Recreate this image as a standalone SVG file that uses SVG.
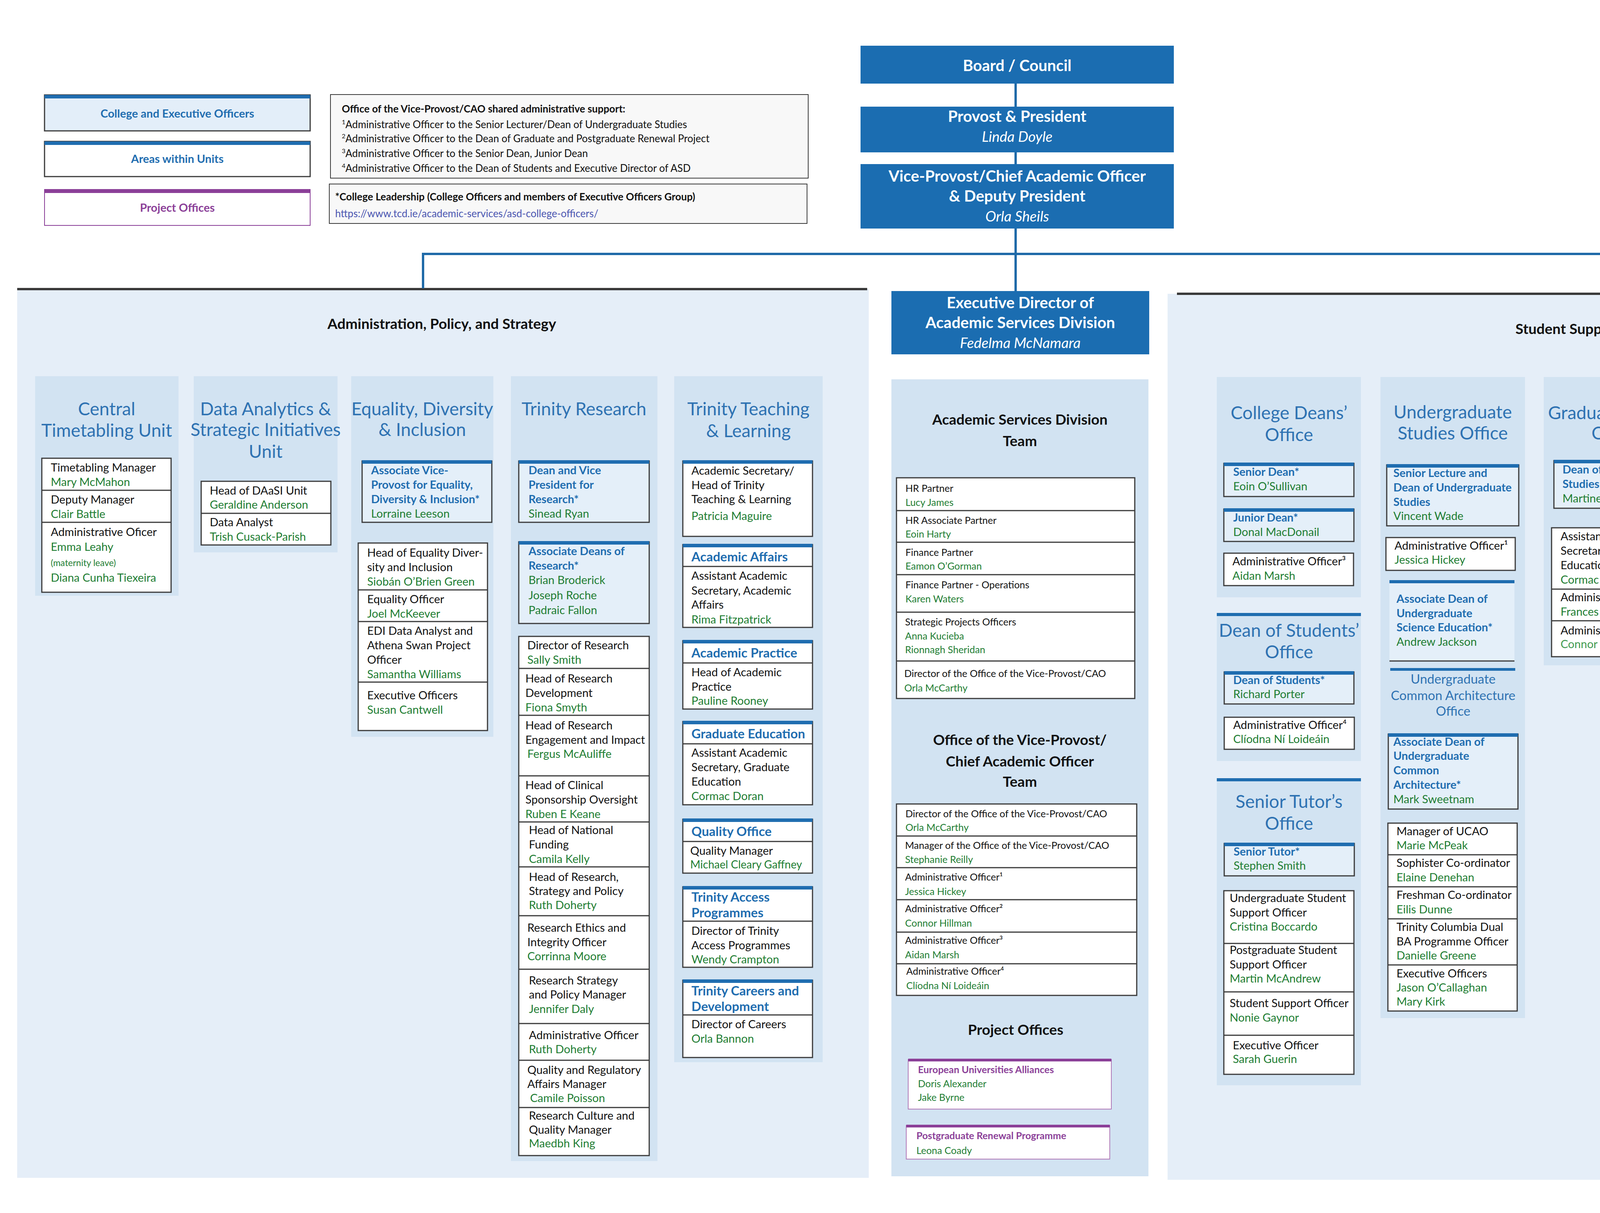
<svg xmlns="http://www.w3.org/2000/svg" width="5280" height="3105" viewBox="0 0 5280 3105">
<style>
text{font-family:Lato,"Open Sans","Liberation Sans",sans-serif}
.t{font-size:29px;fill:#111}
.g{font-size:29px;fill:#1e7d32}
.s{font-size:20px;fill:#1e7d32}
.h{font-size:29px;fill:#1f6db0;font-weight:bold}
.hh{font-size:33px;fill:#1f6db0;font-weight:bold}
.ct{font-size:46px;fill:#2e72b2;text-anchor:middle}
.c{font-size:25px;fill:#111}
.cg{font-size:25px;fill:#1e7d32}
.pt{font-size:25px;fill:#8b3f98;font-weight:bold}
.sec{font-size:39px;font-weight:bold;fill:#111;text-anchor:middle}
.wb{font-size:40px;font-weight:bold;fill:#fff;text-anchor:middle}
.wi{font-size:37px;font-style:italic;fill:#fff;text-anchor:middle}
.n{font-size:26px;fill:#111}
.panel{fill:#e5eef8}
.col{fill:#d2e3f2}
.box{fill:#fff;stroke:#3a3a3a;stroke-width:3}
.lbox{fill:#e4eff9;stroke:#3a3a3a;stroke-width:3}
.bar{fill:#1f6db0}
.dv{stroke:#3a3a3a;stroke-width:3}
.top{fill:#1b6db1}
.cn{stroke:#1f6aa8;stroke-width:6;fill:none}
</style>

<!-- Legend -->
<g id="legend">
<rect x="114" y="243" width="680" height="92" fill="#e3eef9" stroke="#3a3a3a" stroke-width="3"/>
<rect x="114" y="243" width="680" height="9" class="bar"/>
<text x="454" y="301" text-anchor="middle" style="font-size:29px;fill:#1f6db0;font-weight:bold">College and Executive Officers</text>
<rect x="114" y="362" width="680" height="90" class="box"/>
<rect x="114" y="362" width="680" height="9" class="bar"/>
<text x="454" y="417" text-anchor="middle" style="font-size:29px;fill:#1f6db0;font-weight:bold">Areas within Units</text>
<rect x="114" y="485" width="680" height="92" fill="#fff" stroke="#8b3f98" stroke-width="2"/>
<rect x="114" y="485" width="680" height="9" fill="#8b3f98"/>
<text x="454" y="542" text-anchor="middle" style="font-size:29px;fill:#8b3f98;font-weight:bold">Project Offices</text>
</g>
<g id="note1">
<rect x="846" y="242" width="1223" height="214" fill="#f8f8f8" stroke="#3a3a3a" stroke-width="2"/>
<text x="875" y="288" class="n" font-weight="bold">Office of the Vice-Provost/CAO shared administrative support:</text>
<text x="875" y="328" class="n"><tspan font-size="16" dy="-10">1</tspan><tspan dy="10">Administrative Officer to the Senior Lecturer/Dean of Undergraduate Studies</tspan></text>
<text x="875" y="364" class="n"><tspan font-size="16" dy="-10">2</tspan><tspan dy="10">Administrative Officer to the Dean of Graduate  and Postgraduate Renewal Project</tspan></text>
<text x="875" y="402" class="n"><tspan font-size="16" dy="-10">3</tspan><tspan dy="10">Administrative Officer to the Senior Dean, Junior Dean</tspan></text>
<text x="875" y="440" class="n"><tspan font-size="16" dy="-10">4</tspan><tspan dy="10">Administrative Officer to the Dean of Students and Executive Director of ASD</tspan></text>
</g>
<g id="note2">
<rect x="843" y="471" width="1223" height="101" fill="#f8f8f8" stroke="#3a3a3a" stroke-width="2"/>
<text x="858" y="513" class="n" font-weight="bold">*College Leadership (College Officers and members of Executive Officers Group)</text>
<text x="858" y="556" class="n" fill="#4a55b0" style="fill:#4a55b0">https://www.tcd.ie/academic-services/asd-college-officers/</text>
</g>

<!-- Panels -->
<g id="panel-left">
<rect x="44" y="740" width="2180" height="2275" class="panel"/>
<line x1="44" y1="740" x2="2220" y2="740" stroke="#3a3a3a" stroke-width="6"/>
<text x="1131" y="842" class="sec" style="font-size:37px">Administration, Policy, and Strategy</text>
</g>
<g id="panel-right">
<rect x="2989" y="752" width="2281" height="2268" class="panel"/>
<line x1="3013" y1="752" x2="5270" y2="752" stroke="#3a3a3a" stroke-width="6"/>
<text x="4130" y="855" class="sec" style="font-size:37px">Student Supports and Services</text>
</g>

<!-- Connectors -->
<g id="connectors">
<line x1="2600" y1="214" x2="2600" y2="273" class="cn"/>
<line x1="2600" y1="390" x2="2600" y2="420" class="cn"/>
<line x1="2600" y1="585" x2="2600" y2="745" class="cn"/>
<polyline points="1083,738 1083,650 4207,650 4207,749" class="cn"/>
</g>

<!-- Top -->
<g id="board"><rect x="2203" y="117" width="802" height="97" class="top"/><text x="2604" y="182" class="wb">Board / Council</text></g>
<g id="provost"><rect x="2203" y="273" width="802" height="117" class="top"/><text x="2604" y="312" class="wb">Provost &amp; President</text><text x="2604" y="363" class="wi">Linda Doyle</text></g>
<g id="vp"><rect x="2203" y="420" width="802" height="165" class="top"/><text x="2604" y="465" class="wb">Vice-Provost/Chief Academic Officer</text><text x="2604" y="516" class="wb">&amp; Deputy President</text><text x="2604" y="567" class="wi">Orla Sheils</text></g>
<g id="exec"><rect x="2282" y="745" width="660" height="162" class="top"/><text x="2612" y="789" class="wb">Executive Director of</text><text x="2612" y="840" class="wb">Academic Services Division</text><text x="2612" y="891" class="wi">Fedelma McNamara</text></g>

<!-- Central Timetabling -->
<g id="ctu">
<rect x="90" y="963" width="367" height="562" class="col"/>
<text x="273" y="1063" class="ct">Central</text><text x="273" y="1118" class="ct">Timetabling Unit</text>
<rect x="107" y="1173" width="331" height="343" class="box"/>
<line x1="107" y1="1255" x2="438" y2="1255" class="dv"/><line x1="107" y1="1337" x2="438" y2="1337" class="dv"/>
<text x="130" y="1207" class="t">Timetabling Manager</text><text x="130" y="1244" class="g">Mary McMahon</text>
<text x="130" y="1289" class="t">Deputy Manager</text><text x="130" y="1326" class="g">Clair Battle</text>
<text x="130" y="1372" class="t">Administrative Oficer</text><text x="130" y="1410" class="g">Emma Leahy</text>
<text x="130" y="1449" class="s" style="font-size:23px">(maternity leave)</text><text x="130" y="1489" class="g">Diana Cunha Tiexeira</text>
</g>

<!-- Data Analytics -->
<g id="daasi">
<rect x="496" y="963" width="368" height="451" class="col"/>
<text x="680" y="1063" class="ct">Data Analytics &amp;</text><text x="680" y="1116" class="ct">Strategic Initiatives</text><text x="680" y="1172" class="ct">Unit</text>
<rect x="515" y="1232" width="332" height="163" class="box"/><line x1="515" y1="1314" x2="847" y2="1314" class="dv"/>
<text x="537" y="1266" class="t">Head of DAaSI Unit</text><text x="537" y="1302" class="g">Geraldine Anderson</text>
<text x="537" y="1347" class="t">Data Analyst</text><text x="537" y="1384" class="g">Trish Cusack-Parish</text>
</g>

<!-- EDI -->
<g id="edi">
<rect x="899" y="963" width="364" height="923" class="col"/>
<text x="1081" y="1063" class="ct">Equality, Diversity</text><text x="1081" y="1116" class="ct">&amp; Inclusion</text>
<rect x="927" y="1180" width="332" height="157" class="lbox"/><rect x="927" y="1178" width="332" height="9" class="bar"/>
<text x="950" y="1214" class="h">Associate Vice-</text><text x="950" y="1251" class="h">Provost for Equality,</text><text x="950" y="1288" class="h">Diversity &amp;  Inclusion*</text><text x="950" y="1325" class="g">Lorraine Leeson</text>
<rect x="917" y="1390" width="331" height="480" class="box"/>
<line x1="917" y1="1510" x2="1248" y2="1510" class="dv"/><line x1="917" y1="1591" x2="1248" y2="1591" class="dv"/><line x1="917" y1="1746" x2="1248" y2="1746" class="dv"/>
<text x="940" y="1425" class="t">Head of Equality Diver-</text><text x="940" y="1462" class="t">sity and Inclusion</text><text x="940" y="1499" class="g">Siobán O’Brien Green</text>
<text x="940" y="1544" class="t">Equality Officer</text><text x="940" y="1581" class="g">Joel McKeever</text>
<text x="940" y="1625" class="t">EDI Data Analyst and</text><text x="940" y="1662" class="t">Athena Swan Project</text><text x="940" y="1699" class="t">Officer</text><text x="940" y="1736" class="g">Samantha Williams</text>
<text x="940" y="1790" class="t">Executive Officers</text><text x="940" y="1827" class="g">Susan Cantwell</text>
</g>

<!-- Trinity Research -->
<g id="research">
<rect x="1308" y="963" width="375" height="2009" class="col"/>
<text x="1495" y="1063" class="ct">Trinity Research</text>
<rect x="1328" y="1180" width="334" height="157" class="lbox"/><rect x="1328" y="1178" width="334" height="9" class="bar"/>
<text x="1353" y="1214" class="h">Dean and Vice</text><text x="1353" y="1251" class="h">President for</text><text x="1353" y="1288" class="h">Research*</text><text x="1353" y="1325" class="g">Sinead Ryan</text>
<rect x="1328" y="1387" width="334" height="209" class="lbox"/><rect x="1328" y="1385" width="334" height="9" class="bar"/>
<text x="1353" y="1421" class="h">Associate Deans of</text><text x="1353" y="1458" class="h">Research*</text><text x="1353" y="1495" class="g">Brian Broderick</text><text x="1353" y="1534" class="g">Joseph Roche</text><text x="1353" y="1572" class="g">Padraic Fallon</text>
<rect x="1328" y="1629" width="334" height="1329" class="box"/>
<g class="dv"><line x1="1328" y1="1711" x2="1662" y2="1711"/><line x1="1328" y1="1831" x2="1662" y2="1831"/><line x1="1328" y1="1986" x2="1662" y2="1986"/><line x1="1328" y1="2104" x2="1662" y2="2104"/><line x1="1328" y1="2219" x2="1662" y2="2219"/><line x1="1328" y1="2344" x2="1662" y2="2344"/><line x1="1328" y1="2481" x2="1662" y2="2481"/><line x1="1328" y1="2620" x2="1662" y2="2620"/><line x1="1328" y1="2714" x2="1662" y2="2714"/><line x1="1328" y1="2835" x2="1662" y2="2835"/></g>
<text x="1350" y="1662" class="t">Director of Research</text><text x="1350" y="1699" class="g">Sally Smith</text>
<text x="1345" y="1747" class="t">Head of Research</text><text x="1345" y="1784" class="t">Development</text><text x="1345" y="1821" class="g">Fiona Smyth</text>
<text x="1345" y="1867" class="t">Head of Research</text><text x="1345" y="1904" class="t">Engagement and Impact</text><text x="1350" y="1940" class="g">Fergus McAuliffe</text>
<text x="1345" y="2020" class="t">Head of Clinical</text><text x="1345" y="2057" class="t">Sponsorship Oversight</text><text x="1345" y="2094" class="g">Ruben E Keane</text>
<text x="1354" y="2135" class="t">Head of National</text><text x="1354" y="2172" class="t">Funding</text><text x="1354" y="2209" class="g">Camila Kelly</text>
<text x="1354" y="2255" class="t">Head of Research,</text><text x="1354" y="2291" class="t">Strategy and Policy</text><text x="1354" y="2327" class="g">Ruth Doherty</text>
<text x="1350" y="2385" class="t">Research Ethics and</text><text x="1350" y="2422" class="t">Integrity Officer</text><text x="1350" y="2458" class="g">Corrinna Moore</text>
<text x="1354" y="2520" class="t">Research Strategy</text><text x="1354" y="2556" class="t">and Policy Manager</text><text x="1354" y="2593" class="g">Jennifer Daly</text>
<text x="1354" y="2660" class="t">Administrative Officer</text><text x="1354" y="2696" class="g">Ruth Doherty</text>
<text x="1350" y="2749" class="t">Quality and Regulatory</text><text x="1350" y="2785" class="t">Affairs Manager</text><text x="1357" y="2821" class="g">Camile Poisson</text>
<text x="1354" y="2866" class="t">Research Culture and</text><text x="1354" y="2902" class="t">Quality Manager</text><text x="1354" y="2937" class="g">Maedbh King</text>
</g>

<!-- Trinity Teaching & Learning -->
<g id="teaching">
<rect x="1726" y="963" width="380" height="1756" class="col"/>
<text x="1916" y="1063" class="ct">Trinity Teaching</text><text x="1916" y="1119" class="ct">&amp; Learning</text>
<rect x="1748" y="1180" width="332" height="193" class="box"/><rect x="1748" y="1178" width="332" height="9" class="bar"/>
<text x="1770" y="1215" class="t">Academic Secretary/</text><text x="1770" y="1252" class="t">Head of Trinity</text><text x="1770" y="1288" class="t">Teaching &amp; Learning</text><text x="1770" y="1331" class="g">Patricia Maguire</text>
<rect x="1748" y="1394" width="332" height="212" class="box"/><rect x="1748" y="1392" width="332" height="9" class="bar"/><line x1="1748" y1="1450" x2="2080" y2="1450" class="dv"/>
<text x="1770" y="1437" class="hh">Academic Affairs</text><text x="1770" y="1484" class="t">Assistant Academic</text><text x="1770" y="1522" class="t">Secretary, Academic</text><text x="1770" y="1558" class="t">Affairs</text><text x="1770" y="1596" class="g">Rima Fitzpatrick</text>
<rect x="1748" y="1640" width="332" height="175" class="box"/><rect x="1748" y="1638" width="332" height="9" class="bar"/><line x1="1748" y1="1697" x2="2080" y2="1697" class="dv"/>
<text x="1770" y="1683" class="hh">Academic Practice</text><text x="1770" y="1731" class="t">Head of Academic</text><text x="1770" y="1768" class="t">Practice</text><text x="1770" y="1804" class="g">Pauline Rooney</text>
<rect x="1748" y="1847" width="332" height="213" class="box"/><rect x="1748" y="1845" width="332" height="9" class="bar"/><line x1="1748" y1="1904" x2="2080" y2="1904" class="dv"/>
<text x="1770" y="1890" class="hh">Graduate Education</text><text x="1770" y="1937" class="t">Assistant Academic</text><text x="1770" y="1974" class="t">Secretary, Graduate</text><text x="1770" y="2011" class="t">Education</text><text x="1770" y="2048" class="g">Cormac Doran</text>
<rect x="1748" y="2097" width="332" height="138" class="box"/><rect x="1748" y="2095" width="332" height="9" class="bar"/><line x1="1748" y1="2154" x2="2080" y2="2154" class="dv"/>
<text x="1770" y="2140" class="hh">Quality Office</text><text x="1767" y="2188" class="t">Quality Manager</text><text x="1767" y="2223" class="g" style="font-size:28px">Michael Cleary Gaffney</text>
<rect x="1748" y="2270" width="332" height="206" class="box"/><rect x="1748" y="2268" width="332" height="9" class="bar"/><line x1="1748" y1="2358" x2="2080" y2="2358" class="dv"/>
<text x="1770" y="2308" class="hh">Trinity Access</text><text x="1770" y="2348" class="hh">Programmes</text><text x="1770" y="2393" class="t">Director of Trinity</text><text x="1770" y="2430" class="t">Access Programmes</text><text x="1770" y="2466" class="g">Wendy Crampton</text>
<rect x="1748" y="2509" width="332" height="198" class="box"/><rect x="1748" y="2507" width="332" height="9" class="bar"/><line x1="1748" y1="2598" x2="2080" y2="2598" class="dv"/>
<text x="1770" y="2548" class="hh">Trinity Careers and</text><text x="1770" y="2588" class="hh">Development</text><text x="1770" y="2632" class="t">Director of Careers</text><text x="1770" y="2669" class="g">Orla Bannon</text>
</g>

<!-- ASD centre -->
<g id="asd">
<rect x="2282" y="971" width="658" height="2040" class="col"/>
<text x="2611" y="1087" class="sec" style="font-size:37px">Academic Services Division</text><text x="2611" y="1142" class="sec" style="font-size:37px">Team</text>
<rect x="2295" y="1223" width="610" height="565" class="box"/>
<g class="dv"><line x1="2295" y1="1307" x2="2905" y2="1307"/><line x1="2295" y1="1388" x2="2905" y2="1388"/><line x1="2295" y1="1471" x2="2905" y2="1471"/><line x1="2295" y1="1567" x2="2905" y2="1567"/><line x1="2295" y1="1692" x2="2905" y2="1692"/></g>
<text x="2318" y="1259" class="c">HR Partner</text><text x="2318" y="1295" class="cg">Lucy James</text>
<text x="2318" y="1341" class="c">HR Associate Partner</text><text x="2318" y="1376" class="cg">Eoin Harty</text>
<text x="2318" y="1423" class="c">Finance Partner</text><text x="2318" y="1458" class="cg">Eamon O’Gorman</text>
<text x="2318" y="1506" class="c">Finance Partner - Operations</text><text x="2318" y="1542" class="cg">Karen Waters</text>
<text x="2317" y="1601" class="c">Strategic Projects Officers</text><text x="2317" y="1637" class="cg">Anna Kucieba</text><text x="2317" y="1672" class="cg">Rionnagh Sheridan</text>
<text x="2315" y="1733" class="c">Director of the Office of the Vice-Provost/CAO</text><text x="2315" y="1770" class="cg">Orla McCarthy</text>
<text x="2611" y="1907" class="sec" style="font-size:37px">Office of the Vice-Provost/</text><text x="2611" y="1962" class="sec" style="font-size:37px">Chief Academic Officer</text><text x="2611" y="2014" class="sec" style="font-size:37px">Team</text>
<rect x="2295" y="2058" width="615" height="490" class="box"/>
<g class="dv"><line x1="2295" y1="2140" x2="2910" y2="2140"/><line x1="2295" y1="2221" x2="2910" y2="2221"/><line x1="2295" y1="2303" x2="2910" y2="2303"/><line x1="2295" y1="2386" x2="2910" y2="2386"/><line x1="2295" y1="2467" x2="2910" y2="2467"/></g>
<text x="2318" y="2092" class="c">Director of the Office of the Vice-Provost/CAO</text><text x="2318" y="2127" class="cg">Orla McCarthy</text>
<text x="2317" y="2173" class="c">Manager of the Office of the Vice-Provost/CAO</text><text x="2317" y="2209" class="cg">Stephanie Reilly</text>
<text x="2317" y="2254" class="c">Administrative Officer¹</text><text x="2317" y="2291" class="cg">Jessica Hickey</text>
<text x="2317" y="2335" class="c">Administrative Officer²</text><text x="2317" y="2372" class="cg">Connor Hillman</text>
<text x="2317" y="2416" class="c">Administrative Officer³</text><text x="2317" y="2453" class="cg">Aidan Marsh</text>
<text x="2320" y="2495" class="c">Administrative Officer⁴</text><text x="2320" y="2532" class="cg">Clíodna Ní Loideáin</text>
<text x="2600" y="2649" class="sec" style="font-size:37px">Project Offices</text>
</g>
<g id="eua">
<rect x="2325" y="2712" width="520" height="127" fill="#fff" stroke="#b07ab8" stroke-width="2"/><rect x="2325" y="2710" width="520" height="7" fill="#8b3f98"/>
<text x="2350" y="2747" class="pt">European Universities Alliances</text><text x="2350" y="2783" class="cg">Doris Alexander</text><text x="2350" y="2818" class="cg">Jake Byrne</text>
</g>
<g id="prp">
<rect x="2320" y="2881" width="521" height="86" fill="#fff" stroke="#b07ab8" stroke-width="2"/><rect x="2320" y="2879" width="521" height="7" fill="#8b3f98"/>
<text x="2346" y="2916" class="pt">Postgraduate Renewal Programme</text><text x="2346" y="2954" class="cg">Leona Coady</text>
</g>

<!-- College Deans' Office -->
<g id="cdo">
<rect x="3115" y="965" width="369" height="564" class="col"/>
<text x="3300" y="1073" class="ct">College Deans’</text><text x="3300" y="1129" class="ct">Office</text>
<rect x="3133" y="1186" width="333" height="85" class="lbox"/><rect x="3133" y="1184" width="333" height="9" class="bar"/>
<text x="3157" y="1218" class="h">Senior Dean*</text><text x="3157" y="1255" class="g">Eoin O’Sullivan</text>
<rect x="3133" y="1303" width="333" height="83" class="lbox"/><rect x="3133" y="1301" width="333" height="9" class="bar"/>
<text x="3157" y="1335" class="h">Junior Dean*</text><text x="3157" y="1372" class="g">Donal MacDonail</text>
<rect x="3133" y="1416" width="332" height="83" class="box"/>
<text x="3155" y="1447" class="t">Administrative Officer³</text><text x="3155" y="1484" class="g">Aidan Marsh</text>
</g>
<g id="dso">
<rect x="3115" y="1571" width="369" height="377" class="col"/><rect x="3115" y="1569" width="369" height="8" class="bar"/>
<text x="3300" y="1630" class="ct">Dean of Students’</text><text x="3300" y="1685" class="ct">Office</text>
<rect x="3134" y="1720" width="332" height="82" class="lbox"/><rect x="3134" y="1718" width="332" height="9" class="bar"/>
<text x="3157" y="1751" class="h">Dean of Students*</text><text x="3157" y="1787" class="g">Richard Porter</text>
<rect x="3134" y="1836" width="333" height="82" class="box"/>
<text x="3157" y="1866" class="t">Administrative Officer⁴</text><text x="3157" y="1902" class="g">Clíodna Ní Loideáin</text>
</g>
<g id="sto">
<rect x="3115" y="1994" width="369" height="784" class="col"/><rect x="3115" y="1992" width="369" height="8" class="bar"/>
<text x="3300" y="2068" class="ct">Senior Tutor’s</text><text x="3300" y="2124" class="ct">Office</text>
<rect x="3134" y="2159" width="333" height="83" class="lbox"/><rect x="3134" y="2157" width="333" height="9" class="bar"/>
<text x="3158" y="2190" class="h">Senior Tutor*</text><text x="3158" y="2226" class="g">Stephen Smith</text>
<rect x="3133" y="2280" width="333" height="470" class="box"/>
<g class="dv"><line x1="3133" y1="2415" x2="3466" y2="2415"/><line x1="3133" y1="2539" x2="3466" y2="2539"/><line x1="3133" y1="2650" x2="3466" y2="2650"/></g>
<text x="3148" y="2309" class="t">Undergraduate Student</text><text x="3148" y="2346" class="t">Support Officer</text><text x="3148" y="2382" class="g">Cristina Boccardo</text>
<text x="3148" y="2442" class="t">Postgraduate Student</text><text x="3148" y="2479" class="t">Support Officer</text><text x="3148" y="2515" class="g">Martin McAndrew</text>
<text x="3148" y="2578" class="t">Student Support Officer</text><text x="3148" y="2615" class="g">Nonie Gaynor</text>
<text x="3156" y="2686" class="t">Executive Officer</text><text x="3156" y="2721" class="g">Sarah Guerin</text>
</g>

<!-- Undergraduate Studies Office -->
<g id="ugso">
<rect x="3534" y="965" width="370" height="1641" class="col"/>
<text x="3719" y="1071" class="ct">Undergraduate</text><text x="3719" y="1125" class="ct">Studies Office</text>
<rect x="3550" y="1190" width="338" height="156" class="lbox"/><rect x="3550" y="1188" width="338" height="9" class="bar"/>
<text x="3567" y="1221" class="h">Senior Lecture and</text><text x="3567" y="1258" class="h">Dean of Undergraduate</text><text x="3567" y="1295" class="h">Studies</text><text x="3567" y="1331" class="g">Vincent Wade</text>
<rect x="3548" y="1376" width="331" height="84" class="box"/>
<text x="3570" y="1407" class="t">Administrative  Officer¹</text><text x="3570" y="1443" class="g">Jessica Hickey</text>
<rect x="3557" y="1487" width="320" height="205" fill="#e4eff9"/><rect x="3557" y="1485" width="320" height="8" class="bar"/><line x1="3557" y1="1692" x2="3877" y2="1692" class="dv"/>
<text x="3575" y="1543" class="h">Associate Dean of</text><text x="3575" y="1580" class="h">Undergraduate</text><text x="3575" y="1616" class="h">Science Education*</text><text x="3575" y="1653" class="g">Andrew Jackson</text>
<rect x="3559" y="1710" width="320" height="7" class="bar"/>
<text x="3720" y="1750" class="ct" style="font-size:33px">Undergraduate</text><text x="3720" y="1792" class="ct" style="font-size:33px">Common Architecture</text><text x="3720" y="1832" class="ct" style="font-size:33px">Office</text>
<rect x="3554" y="1879" width="332" height="192" class="lbox"/><rect x="3554" y="1877" width="332" height="9" class="bar"/>
<text x="3567" y="1909" class="h">Associate Dean of</text><text x="3567" y="1945" class="h">Undergraduate</text><text x="3567" y="1982" class="h">Common</text><text x="3567" y="2019" class="h">Architecture*</text><text x="3567" y="2056" class="g">Mark Sweetnam</text>
<rect x="3553" y="2107" width="331" height="481" class="box"/>
<g class="dv"><line x1="3553" y1="2188" x2="3884" y2="2188"/><line x1="3553" y1="2270" x2="3884" y2="2270"/><line x1="3553" y1="2352" x2="3884" y2="2352"/><line x1="3553" y1="2470" x2="3884" y2="2470"/></g>
<text x="3575" y="2138" class="t">Manager of UCAO</text><text x="3575" y="2174" class="g">Marie McPeak</text>
<text x="3575" y="2219" class="t">Sophister Co-ordinator</text><text x="3575" y="2256" class="g">Elaine Denehan</text>
<text x="3575" y="2301" class="t">Freshman Co-ordinator</text><text x="3575" y="2338" class="g">Eilis Dunne</text>
<text x="3575" y="2383" class="t">Trinity Columbia Dual</text><text x="3575" y="2420" class="t">BA Programme Officer</text><text x="3575" y="2456" class="g">Danielle Greene</text>
<text x="3575" y="2502" class="t">Executive Officers</text><text x="3575" y="2538" class="g">Jason O’Callaghan</text><text x="3575" y="2574" class="g">Mary Kirk</text>
</g>

<!-- Graduate Studies Office -->
<g id="gso">
<rect x="3952" y="965" width="368" height="738" class="col"/>
<text x="4136" y="1073" class="ct">Graduate Studies</text><text x="4136" y="1125" class="ct">Office</text>
<rect x="3978" y="1179" width="332" height="122" class="lbox"/><rect x="3978" y="1177" width="332" height="9" class="bar"/>
<text x="4000" y="1212" class="h">Dean of Graduate</text><text x="4000" y="1249" class="h">Studies*</text><text x="4000" y="1286" class="g">Martine Smith</text>
<rect x="3972" y="1351" width="333" height="330" class="box"/>
<line x1="3972" y1="1508" x2="4305" y2="1508" class="dv"/><line x1="3972" y1="1589" x2="4305" y2="1589" class="dv"/>
<text x="3995" y="1383" class="t">Assistant Academic</text><text x="3995" y="1420" class="t">Secretary, Graduate</text><text x="3995" y="1457" class="t">Education</text><text x="3995" y="1494" class="g">Cormac Doran</text>
<text x="3995" y="1539" class="t">Administrative  Officer</text><text x="3995" y="1576" class="g">Frances Leogue</text>
<text x="3995" y="1624" class="t">Administrative Officer²</text><text x="3995" y="1659" class="g" style="fill:#3f9a4f">Connor Hillman</text>
</g>

<!-- Trinity Global -->
<g id="global">
<rect x="4368" y="965" width="371" height="1855" class="col"/>
<text x="4553" y="1075" class="ct">Trinity Global</text>
<rect x="4387" y="1179" width="332" height="122" class="lbox"/><rect x="4387" y="1177" width="332" height="9" class="bar"/>
<text x="4410" y="1212" class="h">Vice-President for</text><text x="4410" y="1249" class="h">Global Engagement*</text><text x="4410" y="1286" class="g">Emma Stokes</text>
<rect x="4387" y="1362" width="332" height="137" class="box"/><rect x="4387" y="1360" width="332" height="9" class="bar"/><line x1="4387" y1="1416" x2="4719" y2="1416" class="dv"/>
<text x="4410" y="1403" class="hh">Marketing</text><text x="4410" y="1446" class="t">Director</text><text x="4410" y="1483" class="g">Beibhinn Coman</text>
<rect x="4387" y="1539" width="332" height="207" class="box"/><rect x="4387" y="1537" width="332" height="9" class="bar"/><line x1="4387" y1="1628" x2="4719" y2="1628" class="dv"/>
<text x="4410" y="1578" class="hh">Partnerships and</text><text x="4410" y="1618" class="hh">Global Mobility</text><text x="4410" y="1673" class="t">Associate Director</text><text x="4410" y="1709" class="g">Niamh Burke</text><text x="4410" y="1736" class="s">(on maternity leave)</text>
<rect x="4387" y="1766" width="332" height="136" class="box"/><rect x="4387" y="1764" width="332" height="9" class="bar"/><line x1="4387" y1="1820" x2="4719" y2="1820" class="dv"/>
<text x="4410" y="1807" class="hh">Recruitment</text><text x="4410" y="1852" class="t">Associate Director</text><text x="4410" y="1889" class="g">Declan Coogan</text>
<rect x="4387" y="1929" width="333" height="170" class="box"/><rect x="4387" y="1927" width="333" height="9" class="bar"/><line x1="4387" y1="2019" x2="4720" y2="2019" class="dv"/>
<text x="4410" y="1968" class="hh">Trinity Global</text><text x="4410" y="2008" class="hh">Experience</text><text x="4410" y="2047" class="t">Associate Director</text><text x="4410" y="2083" class="g">Louise Staunton</text>
<rect x="4387" y="2138" width="333" height="659" class="box"/><rect x="4387" y="2136" width="333" height="9" class="bar"/>
<g class="dv"><line x1="4387" y1="2227" x2="4720" y2="2227"/><line x1="4387" y1="2308" x2="4720" y2="2308"/><line x1="4387" y1="2427" x2="4720" y2="2427"/><line x1="4387" y1="2552" x2="4720" y2="2552"/><line x1="4387" y1="2673" x2="4720" y2="2673"/></g>
<text x="4410" y="2176" class="hh">Administration and</text><text x="4410" y="2216" class="hh">Business Planning</text>
<text x="4410" y="2257" class="t">Operations Manager</text><text x="4410" y="2293" class="g">Audrey Fevry</text>
<text x="4410" y="2338" class="t">Business Planning &amp;</text><text x="4410" y="2375" class="t">Data Manager</text><text x="4410" y="2411" class="g">Michelle Garvey</text>
<text x="4410" y="2458" class="t" style="font-size:31px">Executive Assistance</text><text x="4410" y="2497" class="t" style="font-size:31px">to VPGE</text><text x="4410" y="2533" class="g">Debora Lima</text>
<text x="4406" y="2580" class="t" style="font-size:31px">Policy and Research</text><text x="4406" y="2619" class="t" style="font-size:31px">Adviser</text><text x="4406" y="2657" class="g">Jonny Johnston</text>
<text x="4408" y="2702" class="t" style="font-size:31px">Future Student</text><text x="4408" y="2741" class="t" style="font-size:31px">Strategy Adviser</text><text x="4408" y="2780" class="g">Audrey Byrne</text>
</g>

<!-- Library -->
<g id="library">
<rect x="4791" y="965" width="369" height="1813" class="col"/>
<text x="4975" y="1069" class="ct">Library</text>
<rect x="4811" y="1179" width="332" height="122" class="lbox"/><rect x="4811" y="1177" width="332" height="9" class="bar"/>
<text x="4833" y="1212" class="h">Librarian and College</text><text x="4833" y="1249" class="h">Archivist*</text><text x="4833" y="1286" class="g">Helen Shenton</text>
<rect x="4809" y="1331" width="331" height="1405" class="box"/>
<g class="dv"><line x1="4809" y1="1504" x2="5140" y2="1504"/><line x1="4809" y1="1680" x2="5140" y2="1680"/><line x1="4809" y1="1797" x2="5140" y2="1797"/><line x1="4809" y1="1916" x2="5140" y2="1916"/><line x1="4809" y1="2038" x2="5140" y2="2038"/><line x1="4811" y1="2129" x2="5135" y2="2129" stroke-width="2"/><line x1="4809" y1="2264" x2="5140" y2="2264"/><line x1="4809" y1="2382" x2="5140" y2="2382"/><line x1="4809" y1="2538" x2="5140" y2="2538"/><line x1="4809" y1="2618" x2="5140" y2="2618"/></g>
<text x="4832" y="1375" class="t">Deputy Librarian and</text><text x="4832" y="1412" class="t">Head of Reader’s</text><text x="4832" y="1449" class="t">Services</text><text x="4832" y="1486" class="g">Jessie Kurtz</text>
<text x="4832" y="1550" class="t">Head of Content</text><text x="4832" y="1587" class="t">Management</text><text x="4832" y="1624" class="g">Christoph Schmidt-</text><text x="4832" y="1661" class="g">Supprian</text>
<text x="4832" y="1716" class="t">Head of Research</text><text x="4832" y="1753" class="t">Collections</text><text x="4832" y="1789" class="g">Laura Shanahan</text>
<text x="4832" y="1835" class="t">Head Preservation</text><text x="4832" y="1871" class="t">and Conservation</text><text x="4832" y="1908" class="g">Sarah Vansnik</text>
<text x="4832" y="1953" class="t">Sub Librarians</text><text x="4832" y="1990" class="g">Peter Dudley</text><text x="4832" y="2026" class="g">Siobhan Dunne</text>
<text x="4832" y="2073" class="t">Keeper (Conservation)</text><text x="4832" y="2109" class="g">Susan Bioletti</text>
<text x="4832" y="2159" class="t">Deputy Head, CMOS,</text><text x="4832" y="2195" class="t" style="font-size:28px">Aquisitions &amp; Metadata</text><text x="4832" y="2231" class="g">Siobhan Dunne</text>
<text x="4832" y="2294" class="t">Deputy Head CMOS,</text><text x="4832" y="2331" class="t">Digital</text><text x="4832" y="2368" class="g">Charles Montague</text>
<text x="4832" y="2413" class="t">Deputy Head CMOS,</text><text x="4832" y="2449" class="t">Acquisitions and</text><text x="4832" y="2486" class="t">Metadata</text><text x="4832" y="2522" class="g">Laura Rooney Ferris</text>
<text x="4832" y="2568" class="t">Administrative Officer</text><text x="4832" y="2605" class="g">Sharon McIntyre</text>
<text x="4832" y="2648" class="t">Head of Library</text><text x="4832" y="2684" class="t">Communications</text><text x="4832" y="2720" class="g">Caoimhe Ni Lochlainn</text>
</g>
</svg>
